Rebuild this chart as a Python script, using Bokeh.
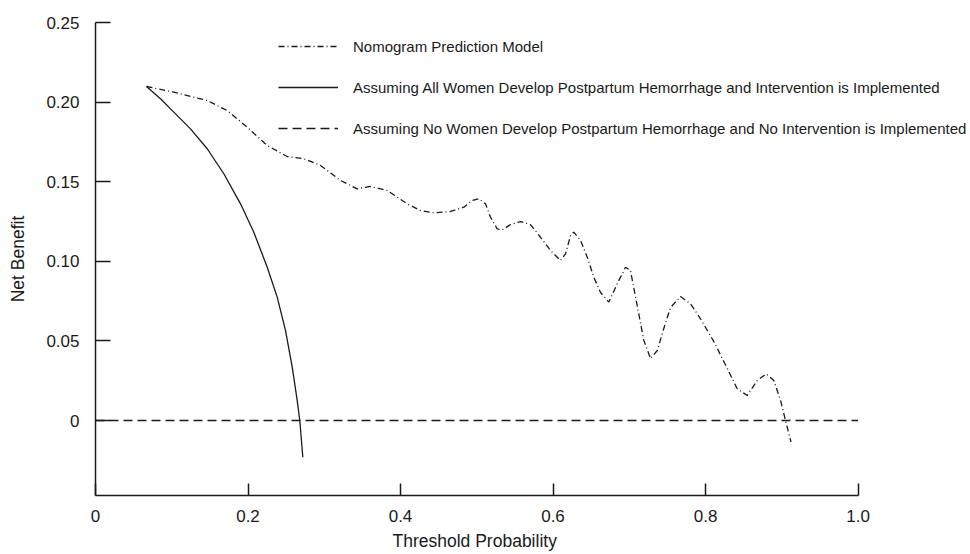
from bokeh.plotting import figure
from bokeh.models import (FixedTicker, CustomJSTickFormatter, Label, Legend,
                          LegendItem, Range1d, Title)
from bokeh.embed import file_html
from bokeh.resources import INLINE

# ---- data ----
threshold_model = [0.0669, 0.1027, 0.1465, 0.1727, 0.1990, 0.2252, 0.2514, 0.2732,
                   0.2951, 0.3213, 0.3432, 0.3607, 0.3826, 0.4088, 0.4262, 0.4437,
                   0.4656, 0.4830, 0.4941, 0.5027, 0.5115, 0.5180, 0.5268, 0.5334,
                   0.5443, 0.5574, 0.5705, 0.5836, 0.5967, 0.6098, 0.6164, 0.6230,
                   0.6273, 0.6361, 0.6449, 0.6535, 0.6623, 0.6732, 0.6842, 0.6951,
                   0.7016, 0.7104, 0.7191, 0.7279, 0.7367, 0.7453, 0.7541, 0.7672,
                   0.7803, 0.7934, 0.8109, 0.8285, 0.8416, 0.8547, 0.8678, 0.8796,
                   0.8896, 0.8984, 0.9049, 0.9121]
net_benefit_model = [0.2098, 0.2062, 0.2010, 0.1947, 0.1842, 0.1727, 0.1658, 0.1644,
                     0.1602, 0.1508, 0.1455, 0.1470, 0.1445, 0.1361, 0.1319, 0.1305,
                     0.1313, 0.1340, 0.1382, 0.1393, 0.1361, 0.1277, 0.1204, 0.1197,
                     0.1231, 0.1250, 0.1231, 0.1151, 0.1068, 0.1005, 0.1047, 0.1162,
                     0.1183, 0.1131, 0.1026, 0.0900, 0.0804, 0.0744, 0.0859, 0.0963,
                     0.0942, 0.0722, 0.0503, 0.0389, 0.0440, 0.0578, 0.0710, 0.0779,
                     0.0733, 0.0639, 0.0496, 0.0327, 0.0199, 0.0157, 0.0251, 0.0293,
                     0.0251, 0.0126, 0.0000, -0.0135]

threshold_all = [0.0669, 0.0852, 0.1027, 0.1246, 0.1465, 0.1683, 0.1902, 0.2076,
                 0.2252, 0.2383, 0.2492, 0.2580, 0.2645, 0.2679, 0.2719]
net_benefit_all = [0.2098, 0.2021, 0.1937, 0.1832, 0.1707, 0.1550, 0.1361, 0.1183,
                   0.0963, 0.0775, 0.0565, 0.0335, 0.0126, 0.0000, -0.0231]

threshold_none = [0.0, 1.0]
net_benefit_none = [0.0, 0.0]

x_ticks = [0, 0.2, 0.4, 0.6, 0.8, 1.0]
y_ticks = [0, 0.05, 0.10, 0.15, 0.20, 0.25]
series_names = [
    "Nomogram Prediction Model",
    "Assuming All Women Develop Postpartum Hemorrhage and Intervention is Implemented",
    "Assuming No Women Develop Postpartum Hemorrhage and No Intervention is Implemented",
]
x_title = "Threshold Probability"
y_title = "Net Benefit"

FONT = "Liberation Sans"
INK = "#1a1a1a"

p = figure(width=970, height=554, output_backend="svg", toolbar_location=None,
           x_range=Range1d(0, 1.1475), y_range=Range1d(-0.0471, 0.25),
           min_border_left=95, min_border_right=0, min_border_top=22,
           min_border_bottom=59)
p.outline_line_color = None
p.xgrid.visible = False
p.ygrid.visible = False
p.background_fill_color = "white"

r_model = p.line(threshold_model, net_benefit_model, line_color=INK,
                 line_width=1.3, line_dash="6 3 1 3")
r_all = p.line(threshold_all, net_benefit_all, line_color=INK, line_width=1.3)
r_none = p.line(threshold_none, net_benefit_none, line_color=INK, line_width=1.3,
                line_dash="9 5")

# axes
for ax in (p.xaxis[0], p.yaxis[0]):
    ax.axis_line_color = INK
    ax.axis_line_width = 1.5
    ax.major_tick_line_color = INK
    ax.major_tick_line_width = 1.5
    ax.major_tick_out = 0
    ax.minor_tick_in = 0
    ax.minor_tick_out = 0
    ax.major_label_text_font = FONT
    ax.major_label_text_font_size = "17px"
    ax.major_label_text_color = INK
    ax.axis_label_text_font = FONT
    ax.axis_label_text_font_size = "17.5px"
    ax.axis_label_text_font_style = "normal"
    ax.axis_label_text_color = INK

p.xaxis.bounds = (0, 1.0)
p.xaxis.ticker = FixedTicker(ticks=x_ticks, minor_ticks=[])
p.xaxis.formatter = CustomJSTickFormatter(code="return tick == 0 ? '0' : tick.toFixed(1);")
p.xaxis.major_tick_in = 12
p.xaxis.major_label_standoff = 14

p.yaxis.bounds = (-0.0471, 0.25)
p.yaxis.ticker = FixedTicker(ticks=y_ticks, minor_ticks=[])
p.yaxis.formatter = CustomJSTickFormatter(code="return tick == 0 ? '0' : tick.toFixed(2);")
p.yaxis.major_tick_in = 15
p.yaxis.major_label_standoff = 16
p.yaxis.axis_label = y_title
p.yaxis.axis_label_standoff = 15

# x-axis title placed under the 0-1 span of the axis line
p.add_layout(Title(text=x_title, align="left", offset=297, standoff=8,
                   text_font=FONT, text_font_size="17.5px", text_font_style="normal",
                   text_line_height=0.9, text_color=INK), "below")

p.add_layout(Label(x=0, y=-0.0408, x_offset=-16, text="-0.05", text_align="right",
                   text_baseline="middle", text_font=FONT, text_font_size="17px",
                   text_color=INK))

legend = Legend(items=[LegendItem(label=series_names[0], renderers=[r_model]),
                       LegendItem(label=series_names[1], renderers=[r_all]),
                       LegendItem(label=series_names[2], renderers=[r_none])],
                location=(183, 357), orientation="vertical",
                glyph_width=60, glyph_height=20, label_height=20, spacing=21,
                label_standoff=15, padding=0, margin=0,
                border_line_alpha=0, background_fill_alpha=0,
                label_text_font=FONT, label_text_font_size="15px",
                label_text_color=INK)
p.add_layout(legend)

open("out.html", "w").write(file_html(p, INLINE))
